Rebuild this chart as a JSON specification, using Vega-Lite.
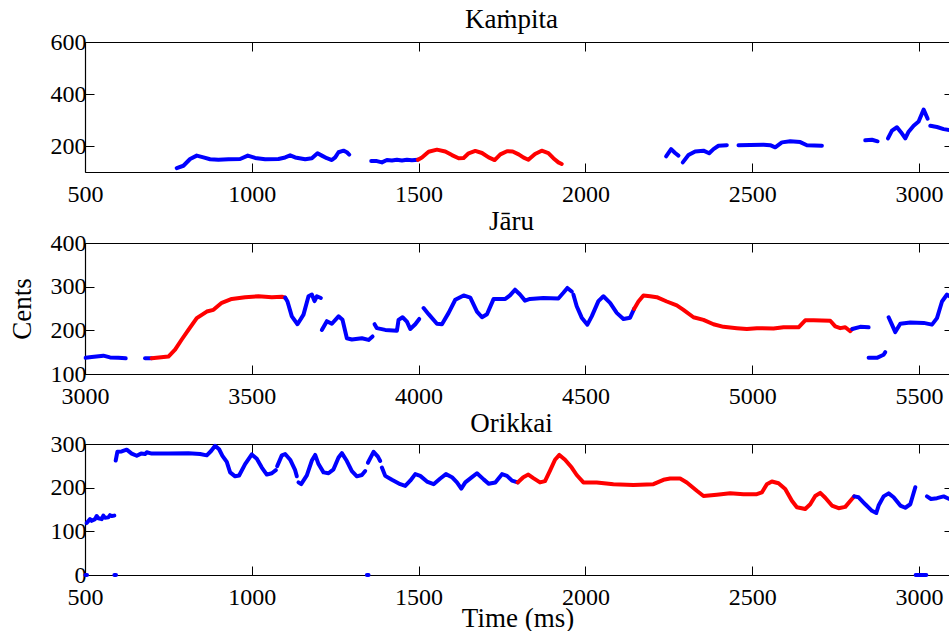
{
  "$schema": "https://vega.github.io/schema/vega-lite/v6.json",
  "padding": {"left": 8, "top": 6, "right": 0, "bottom": 0},
  "spacing": 2,
  "config": {
    "view": {"stroke": null},
    "line": {"strokeWidth": 4, "strokeCap": "round", "strokeJoin": "round"}
  },
  "datasets": {
    "k": [
      {"t": 775, "v": 115, "s": 1, "c": "b"}, {"t": 795, "v": 124, "s": 1, "c": "b"}, {"t": 815, "v": 150, "s": 1, "c": "b"},
      {"t": 835, "v": 163, "s": 1, "c": "b"}, {"t": 855, "v": 156, "s": 1, "c": "b"}, {"t": 875, "v": 149, "s": 1, "c": "b"},
      {"t": 900, "v": 147, "s": 1, "c": "b"}, {"t": 930, "v": 149, "s": 1, "c": "b"}, {"t": 965, "v": 150, "s": 1, "c": "b"},
      {"t": 988, "v": 163, "s": 1, "c": "b"}, {"t": 1010, "v": 154, "s": 1, "c": "b"}, {"t": 1040, "v": 149, "s": 1, "c": "b"},
      {"t": 1080, "v": 150, "s": 1, "c": "b"}, {"t": 1100, "v": 156, "s": 1, "c": "b"}, {"t": 1115, "v": 164, "s": 1, "c": "b"},
      {"t": 1130, "v": 156, "s": 1, "c": "b"}, {"t": 1160, "v": 149, "s": 1, "c": "b"}, {"t": 1180, "v": 153, "s": 1, "c": "b"},
      {"t": 1197, "v": 172, "s": 1, "c": "b"}, {"t": 1210, "v": 163, "s": 1, "c": "b"}, {"t": 1225, "v": 153, "s": 1, "c": "b"},
      {"t": 1240, "v": 146, "s": 1, "c": "b"}, {"t": 1250, "v": 156, "s": 1, "c": "b"}, {"t": 1260, "v": 176, "s": 1, "c": "b"},
      {"t": 1275, "v": 182, "s": 1, "c": "b"}, {"t": 1285, "v": 176, "s": 1, "c": "b"}, {"t": 1292, "v": 167, "s": 1, "c": "b"},
      {"t": 1358, "v": 142, "s": 2, "c": "b"}, {"t": 1375, "v": 142, "s": 2, "c": "b"}, {"t": 1390, "v": 137, "s": 2, "c": "b"},
      {"t": 1405, "v": 146, "s": 2, "c": "b"}, {"t": 1420, "v": 144, "s": 2, "c": "b"}, {"t": 1435, "v": 147, "s": 2, "c": "b"},
      {"t": 1450, "v": 144, "s": 2, "c": "b"}, {"t": 1465, "v": 147, "s": 2, "c": "b"}, {"t": 1480, "v": 145, "s": 2, "c": "b"},
      {"t": 1498, "v": 147, "s": 2, "c": "b"},
      {"t": 1498, "v": 147, "s": 3, "c": "r"}, {"t": 1510, "v": 156, "s": 3, "c": "r"}, {"t": 1530, "v": 178, "s": 3, "c": "r"},
      {"t": 1555, "v": 186, "s": 3, "c": "r"}, {"t": 1580, "v": 179, "s": 3, "c": "r"}, {"t": 1600, "v": 165, "s": 3, "c": "r"},
      {"t": 1620, "v": 153, "s": 3, "c": "r"}, {"t": 1635, "v": 154, "s": 3, "c": "r"}, {"t": 1650, "v": 172, "s": 3, "c": "r"},
      {"t": 1670, "v": 181, "s": 3, "c": "r"}, {"t": 1690, "v": 173, "s": 3, "c": "r"}, {"t": 1710, "v": 156, "s": 3, "c": "r"},
      {"t": 1728, "v": 146, "s": 3, "c": "r"}, {"t": 1745, "v": 168, "s": 3, "c": "r"}, {"t": 1765, "v": 180, "s": 3, "c": "r"},
      {"t": 1782, "v": 179, "s": 3, "c": "r"}, {"t": 1800, "v": 168, "s": 3, "c": "r"}, {"t": 1815, "v": 155, "s": 3, "c": "r"},
      {"t": 1829, "v": 147, "s": 3, "c": "r"}, {"t": 1849, "v": 169, "s": 3, "c": "r"}, {"t": 1869, "v": 182, "s": 3, "c": "r"},
      {"t": 1889, "v": 173, "s": 3, "c": "r"}, {"t": 1904, "v": 153, "s": 3, "c": "r"}, {"t": 1919, "v": 137, "s": 3, "c": "r"},
      {"t": 1929, "v": 131, "s": 3, "c": "r"},
      {"t": 2242, "v": 160, "s": 4, "c": "b"}, {"t": 2257, "v": 188, "s": 4, "c": "b"}, {"t": 2269, "v": 173, "s": 4, "c": "b"},
      {"t": 2279, "v": 163, "s": 4, "c": "b"},
      {"t": 2292, "v": 137, "s": 5, "c": "b"}, {"t": 2309, "v": 165, "s": 5, "c": "b"}, {"t": 2329, "v": 179, "s": 5, "c": "b"},
      {"t": 2354, "v": 182, "s": 5, "c": "b"}, {"t": 2371, "v": 172, "s": 5, "c": "b"}, {"t": 2384, "v": 188, "s": 5, "c": "b"},
      {"t": 2399, "v": 201, "s": 5, "c": "b"}, {"t": 2424, "v": 203, "s": 5, "c": "b"},
      {"t": 2459, "v": 203, "s": 6, "c": "b"}, {"t": 2494, "v": 204, "s": 6, "c": "b"}, {"t": 2534, "v": 205, "s": 6, "c": "b"},
      {"t": 2554, "v": 203, "s": 6, "c": "b"}, {"t": 2569, "v": 195, "s": 6, "c": "b"}, {"t": 2589, "v": 214, "s": 6, "c": "b"},
      {"t": 2614, "v": 218, "s": 6, "c": "b"}, {"t": 2644, "v": 215, "s": 6, "c": "b"}, {"t": 2664, "v": 203, "s": 6, "c": "b"},
      {"t": 2709, "v": 201, "s": 6, "c": "b"},
      {"t": 2839, "v": 222, "s": 7, "c": "b"}, {"t": 2859, "v": 224, "s": 7, "c": "b"}, {"t": 2876, "v": 218, "s": 7, "c": "b"},
      {"t": 2907, "v": 229, "s": 8, "c": "b"}, {"t": 2919, "v": 259, "s": 8, "c": "b"}, {"t": 2934, "v": 272, "s": 8, "c": "b"},
      {"t": 2946, "v": 253, "s": 8, "c": "b"}, {"t": 2959, "v": 229, "s": 8, "c": "b"}, {"t": 2969, "v": 255, "s": 8, "c": "b"},
      {"t": 2984, "v": 278, "s": 8, "c": "b"}, {"t": 2999, "v": 294, "s": 8, "c": "b"}, {"t": 3014, "v": 340, "s": 8, "c": "b"},
      {"t": 3026, "v": 305, "s": 8, "c": "b"},
      {"t": 3034, "v": 278, "s": 9, "c": "b"}, {"t": 3054, "v": 273, "s": 9, "c": "b"}, {"t": 3074, "v": 265, "s": 9, "c": "b"},
      {"t": 3091, "v": 261, "s": 9, "c": "b"}
    ],
    "j": [
      {"t": 3002, "v": 137, "s": 1, "c": "b"}, {"t": 3020, "v": 139, "s": 1, "c": "b"}, {"t": 3055, "v": 142, "s": 1, "c": "b"},
      {"t": 3075, "v": 138, "s": 1, "c": "b"}, {"t": 3100, "v": 137, "s": 1, "c": "b"}, {"t": 3122, "v": 136, "s": 1, "c": "b"},
      {"t": 3180, "v": 136, "s": 2, "c": "b"}, {"t": 3200, "v": 136, "s": 2, "c": "b"},
      {"t": 3200, "v": 136, "s": 3, "c": "r"}, {"t": 3250, "v": 140, "s": 3, "c": "r"}, {"t": 3270, "v": 156, "s": 3, "c": "r"},
      {"t": 3290, "v": 179, "s": 3, "c": "r"}, {"t": 3310, "v": 201, "s": 3, "c": "r"}, {"t": 3335, "v": 228, "s": 3, "c": "r"},
      {"t": 3365, "v": 243, "s": 3, "c": "r"}, {"t": 3385, "v": 247, "s": 3, "c": "r"}, {"t": 3410, "v": 263, "s": 3, "c": "r"},
      {"t": 3440, "v": 272, "s": 3, "c": "r"}, {"t": 3480, "v": 276, "s": 3, "c": "r"}, {"t": 3520, "v": 278, "s": 3, "c": "r"},
      {"t": 3560, "v": 276, "s": 3, "c": "r"}, {"t": 3590, "v": 277, "s": 3, "c": "r"}, {"t": 3600, "v": 275, "s": 3, "c": "r"},
      {"t": 3600, "v": 275, "s": 4, "c": "b"}, {"t": 3607, "v": 266, "s": 4, "c": "b"}, {"t": 3620, "v": 232, "s": 4, "c": "b"},
      {"t": 3637, "v": 214, "s": 4, "c": "b"}, {"t": 3655, "v": 236, "s": 4, "c": "b"}, {"t": 3670, "v": 278, "s": 4, "c": "b"},
      {"t": 3680, "v": 282, "s": 4, "c": "b"}, {"t": 3688, "v": 267, "s": 4, "c": "b"}, {"t": 3695, "v": 278, "s": 4, "c": "b"},
      {"t": 3707, "v": 274, "s": 4, "c": "b"},
      {"t": 3710, "v": 201, "s": 5, "c": "b"}, {"t": 3725, "v": 221, "s": 5, "c": "b"}, {"t": 3740, "v": 215, "s": 5, "c": "b"},
      {"t": 3760, "v": 232, "s": 5, "c": "b"}, {"t": 3772, "v": 224, "s": 5, "c": "b"}, {"t": 3785, "v": 182, "s": 5, "c": "b"},
      {"t": 3800, "v": 179, "s": 5, "c": "b"}, {"t": 3830, "v": 182, "s": 5, "c": "b"}, {"t": 3850, "v": 178, "s": 5, "c": "b"},
      {"t": 3862, "v": 186, "s": 5, "c": "b"},
      {"t": 3868, "v": 214, "s": 6, "c": "b"}, {"t": 3875, "v": 205, "s": 6, "c": "b"}, {"t": 3900, "v": 201, "s": 6, "c": "b"},
      {"t": 3935, "v": 199, "s": 6, "c": "b"}, {"t": 3940, "v": 224, "s": 6, "c": "b"}, {"t": 3952, "v": 230, "s": 6, "c": "b"},
      {"t": 3965, "v": 220, "s": 6, "c": "b"}, {"t": 3975, "v": 203, "s": 6, "c": "b"}, {"t": 3990, "v": 214, "s": 6, "c": "b"},
      {"t": 4002, "v": 226, "s": 6, "c": "b"},
      {"t": 4015, "v": 251, "s": 7, "c": "b"}, {"t": 4030, "v": 237, "s": 7, "c": "b"}, {"t": 4055, "v": 215, "s": 7, "c": "b"},
      {"t": 4070, "v": 214, "s": 7, "c": "b"}, {"t": 4090, "v": 240, "s": 7, "c": "b"}, {"t": 4110, "v": 270, "s": 7, "c": "b"},
      {"t": 4135, "v": 280, "s": 7, "c": "b"}, {"t": 4155, "v": 275, "s": 7, "c": "b"}, {"t": 4175, "v": 243, "s": 7, "c": "b"},
      {"t": 4190, "v": 230, "s": 7, "c": "b"}, {"t": 4205, "v": 237, "s": 7, "c": "b"}, {"t": 4225, "v": 272, "s": 7, "c": "b"},
      {"t": 4260, "v": 272, "s": 7, "c": "b"}, {"t": 4274, "v": 280, "s": 7, "c": "b"}, {"t": 4289, "v": 293, "s": 7, "c": "b"},
      {"t": 4304, "v": 282, "s": 7, "c": "b"}, {"t": 4319, "v": 268, "s": 7, "c": "b"}, {"t": 4334, "v": 272, "s": 7, "c": "b"},
      {"t": 4374, "v": 274, "s": 7, "c": "b"}, {"t": 4419, "v": 273, "s": 7, "c": "b"}, {"t": 4434, "v": 286, "s": 7, "c": "b"},
      {"t": 4446, "v": 297, "s": 7, "c": "b"}, {"t": 4459, "v": 289, "s": 7, "c": "b"},
      {"t": 4464, "v": 282, "s": 8, "c": "b"}, {"t": 4474, "v": 255, "s": 8, "c": "b"}, {"t": 4489, "v": 229, "s": 8, "c": "b"},
      {"t": 4506, "v": 213, "s": 8, "c": "b"}, {"t": 4519, "v": 232, "s": 8, "c": "b"}, {"t": 4539, "v": 267, "s": 8, "c": "b"},
      {"t": 4554, "v": 278, "s": 8, "c": "b"}, {"t": 4574, "v": 263, "s": 8, "c": "b"}, {"t": 4594, "v": 240, "s": 8, "c": "b"},
      {"t": 4614, "v": 226, "s": 8, "c": "b"}, {"t": 4634, "v": 229, "s": 8, "c": "b"}, {"t": 4646, "v": 249, "s": 8, "c": "b"},
      {"t": 4646, "v": 249, "s": 9, "c": "r"}, {"t": 4659, "v": 266, "s": 9, "c": "r"}, {"t": 4674, "v": 280, "s": 9, "c": "r"},
      {"t": 4694, "v": 278, "s": 9, "c": "r"}, {"t": 4714, "v": 276, "s": 9, "c": "r"}, {"t": 4744, "v": 266, "s": 9, "c": "r"},
      {"t": 4774, "v": 257, "s": 9, "c": "r"}, {"t": 4794, "v": 247, "s": 9, "c": "r"}, {"t": 4824, "v": 230, "s": 9, "c": "r"},
      {"t": 4854, "v": 224, "s": 9, "c": "r"}, {"t": 4884, "v": 214, "s": 9, "c": "r"}, {"t": 4914, "v": 208, "s": 9, "c": "r"},
      {"t": 4954, "v": 205, "s": 9, "c": "r"}, {"t": 4984, "v": 203, "s": 9, "c": "r"}, {"t": 5014, "v": 205, "s": 9, "c": "r"},
      {"t": 5064, "v": 204, "s": 9, "c": "r"}, {"t": 5094, "v": 207, "s": 9, "c": "r"}, {"t": 5139, "v": 207, "s": 9, "c": "r"},
      {"t": 5159, "v": 223, "s": 9, "c": "r"}, {"t": 5184, "v": 223, "s": 9, "c": "r"}, {"t": 5234, "v": 222, "s": 9, "c": "r"},
      {"t": 5249, "v": 209, "s": 9, "c": "r"}, {"t": 5264, "v": 205, "s": 9, "c": "r"}, {"t": 5279, "v": 207, "s": 9, "c": "r"},
      {"t": 5294, "v": 198, "s": 9, "c": "r"}, {"t": 5300, "v": 203, "s": 9, "c": "r"},
      {"t": 5300, "v": 203, "s": 10, "c": "b"}, {"t": 5324, "v": 208, "s": 10, "c": "b"}, {"t": 5349, "v": 207, "s": 10, "c": "b"},
      {"t": 5349, "v": 137, "s": 11, "c": "b"}, {"t": 5374, "v": 137, "s": 11, "c": "b"}, {"t": 5394, "v": 144, "s": 11, "c": "b"},
      {"t": 5399, "v": 150, "s": 11, "c": "b"},
      {"t": 5409, "v": 230, "s": 12, "c": "b"}, {"t": 5419, "v": 213, "s": 12, "c": "b"}, {"t": 5429, "v": 196, "s": 12, "c": "b"},
      {"t": 5444, "v": 215, "s": 12, "c": "b"}, {"t": 5474, "v": 218, "s": 12, "c": "b"}, {"t": 5514, "v": 217, "s": 12, "c": "b"},
      {"t": 5539, "v": 213, "s": 12, "c": "b"}, {"t": 5554, "v": 228, "s": 12, "c": "b"}, {"t": 5569, "v": 266, "s": 12, "c": "b"},
      {"t": 5584, "v": 282, "s": 12, "c": "b"}, {"t": 5591, "v": 278, "s": 12, "c": "b"}
    ],
    "o": [
      {"t": 501, "v": 0, "s": 21, "c": "b"}, {"t": 506, "v": 0, "s": 21, "c": "b"},
      {"t": 588, "v": 0, "s": 22, "c": "b"}, {"t": 593, "v": 0, "s": 22, "c": "b"},
      {"t": 1345, "v": 0, "s": 23, "c": "b"}, {"t": 1350, "v": 0, "s": 23, "c": "b"},
      {"t": 2990, "v": 0, "s": 24, "c": "b"}, {"t": 3022, "v": 0, "s": 24, "c": "b"},
      {"t": 505, "v": 119, "s": 1, "c": "b"}, {"t": 515, "v": 128, "s": 1, "c": "b"}, {"t": 520, "v": 124, "s": 1, "c": "b"},
      {"t": 530, "v": 128, "s": 1, "c": "b"}, {"t": 535, "v": 135, "s": 1, "c": "b"}, {"t": 540, "v": 130, "s": 1, "c": "b"},
      {"t": 550, "v": 128, "s": 1, "c": "b"}, {"t": 555, "v": 136, "s": 1, "c": "b"}, {"t": 560, "v": 131, "s": 1, "c": "b"},
      {"t": 570, "v": 132, "s": 1, "c": "b"}, {"t": 575, "v": 137, "s": 1, "c": "b"}, {"t": 580, "v": 135, "s": 1, "c": "b"},
      {"t": 588, "v": 136, "s": 1, "c": "b"},
      {"t": 592, "v": 262, "s": 2, "c": "b"}, {"t": 597, "v": 282, "s": 2, "c": "b"}, {"t": 610, "v": 283, "s": 2, "c": "b"},
      {"t": 625, "v": 287, "s": 2, "c": "b"}, {"t": 640, "v": 278, "s": 2, "c": "b"}, {"t": 655, "v": 273, "s": 2, "c": "b"},
      {"t": 668, "v": 278, "s": 2, "c": "b"}, {"t": 680, "v": 277, "s": 2, "c": "b"}, {"t": 685, "v": 281, "s": 2, "c": "b"},
      {"t": 700, "v": 278, "s": 2, "c": "b"}, {"t": 750, "v": 278, "s": 2, "c": "b"}, {"t": 810, "v": 279, "s": 2, "c": "b"},
      {"t": 845, "v": 277, "s": 2, "c": "b"}, {"t": 865, "v": 274, "s": 2, "c": "b"}, {"t": 878, "v": 284, "s": 2, "c": "b"},
      {"t": 890, "v": 296, "s": 2, "c": "b"}, {"t": 902, "v": 288, "s": 2, "c": "b"}, {"t": 912, "v": 273, "s": 2, "c": "b"},
      {"t": 925, "v": 259, "s": 2, "c": "b"}, {"t": 935, "v": 235, "s": 2, "c": "b"}, {"t": 950, "v": 226, "s": 2, "c": "b"},
      {"t": 962, "v": 228, "s": 2, "c": "b"}, {"t": 980, "v": 254, "s": 2, "c": "b"}, {"t": 1000, "v": 276, "s": 2, "c": "b"},
      {"t": 1015, "v": 266, "s": 2, "c": "b"}, {"t": 1030, "v": 246, "s": 2, "c": "b"}, {"t": 1045, "v": 230, "s": 2, "c": "b"},
      {"t": 1060, "v": 233, "s": 2, "c": "b"}, {"t": 1072, "v": 240, "s": 2, "c": "b"},
      {"t": 1076, "v": 249, "s": 3, "c": "b"}, {"t": 1090, "v": 274, "s": 3, "c": "b"}, {"t": 1100, "v": 277, "s": 3, "c": "b"},
      {"t": 1115, "v": 264, "s": 3, "c": "b"}, {"t": 1130, "v": 240, "s": 3, "c": "b"}, {"t": 1135, "v": 226, "s": 3, "c": "b"},
      {"t": 1140, "v": 212, "s": 4, "c": "b"}, {"t": 1148, "v": 208, "s": 4, "c": "b"}, {"t": 1165, "v": 228, "s": 4, "c": "b"},
      {"t": 1180, "v": 262, "s": 4, "c": "b"}, {"t": 1190, "v": 275, "s": 4, "c": "b"}, {"t": 1200, "v": 254, "s": 4, "c": "b"},
      {"t": 1215, "v": 235, "s": 4, "c": "b"}, {"t": 1230, "v": 233, "s": 4, "c": "b"}, {"t": 1245, "v": 242, "s": 4, "c": "b"},
      {"t": 1260, "v": 269, "s": 4, "c": "b"}, {"t": 1270, "v": 279, "s": 4, "c": "b"}, {"t": 1285, "v": 261, "s": 4, "c": "b"},
      {"t": 1300, "v": 238, "s": 4, "c": "b"}, {"t": 1315, "v": 226, "s": 4, "c": "b"}, {"t": 1330, "v": 229, "s": 4, "c": "b"},
      {"t": 1340, "v": 238, "s": 4, "c": "b"},
      {"t": 1348, "v": 257, "s": 5, "c": "b"}, {"t": 1365, "v": 282, "s": 5, "c": "b"}, {"t": 1378, "v": 271, "s": 5, "c": "b"},
      {"t": 1385, "v": 261, "s": 5, "c": "b"},
      {"t": 1390, "v": 246, "s": 6, "c": "b"}, {"t": 1400, "v": 227, "s": 6, "c": "b"}, {"t": 1420, "v": 218, "s": 6, "c": "b"},
      {"t": 1445, "v": 208, "s": 6, "c": "b"}, {"t": 1460, "v": 204, "s": 6, "c": "b"}, {"t": 1475, "v": 216, "s": 6, "c": "b"},
      {"t": 1490, "v": 231, "s": 6, "c": "b"}, {"t": 1505, "v": 227, "s": 6, "c": "b"}, {"t": 1525, "v": 214, "s": 6, "c": "b"},
      {"t": 1545, "v": 208, "s": 6, "c": "b"}, {"t": 1565, "v": 221, "s": 6, "c": "b"}, {"t": 1582, "v": 231, "s": 6, "c": "b"},
      {"t": 1600, "v": 224, "s": 6, "c": "b"}, {"t": 1615, "v": 212, "s": 6, "c": "b"}, {"t": 1628, "v": 198, "s": 6, "c": "b"},
      {"t": 1640, "v": 212, "s": 6, "c": "b"}, {"t": 1660, "v": 224, "s": 6, "c": "b"}, {"t": 1675, "v": 233, "s": 6, "c": "b"},
      {"t": 1695, "v": 219, "s": 6, "c": "b"}, {"t": 1710, "v": 209, "s": 6, "c": "b"}, {"t": 1730, "v": 212, "s": 6, "c": "b"},
      {"t": 1750, "v": 231, "s": 6, "c": "b"}, {"t": 1765, "v": 227, "s": 6, "c": "b"}, {"t": 1780, "v": 216, "s": 6, "c": "b"},
      {"t": 1797, "v": 212, "s": 6, "c": "b"},
      {"t": 1797, "v": 212, "s": 7, "c": "r"}, {"t": 1814, "v": 224, "s": 7, "c": "r"}, {"t": 1829, "v": 230, "s": 7, "c": "r"},
      {"t": 1844, "v": 222, "s": 7, "c": "r"}, {"t": 1864, "v": 212, "s": 7, "c": "r"}, {"t": 1879, "v": 215, "s": 7, "c": "r"},
      {"t": 1894, "v": 239, "s": 7, "c": "r"}, {"t": 1909, "v": 264, "s": 7, "c": "r"}, {"t": 1922, "v": 275, "s": 7, "c": "r"},
      {"t": 1939, "v": 264, "s": 7, "c": "r"}, {"t": 1959, "v": 246, "s": 7, "c": "r"}, {"t": 1974, "v": 229, "s": 7, "c": "r"},
      {"t": 1994, "v": 212, "s": 7, "c": "r"}, {"t": 2034, "v": 212, "s": 7, "c": "r"}, {"t": 2084, "v": 208, "s": 7, "c": "r"},
      {"t": 2144, "v": 206, "s": 7, "c": "r"}, {"t": 2204, "v": 208, "s": 7, "c": "r"}, {"t": 2234, "v": 218, "s": 7, "c": "r"},
      {"t": 2254, "v": 221, "s": 7, "c": "r"}, {"t": 2284, "v": 221, "s": 7, "c": "r"}, {"t": 2304, "v": 212, "s": 7, "c": "r"},
      {"t": 2334, "v": 193, "s": 7, "c": "r"}, {"t": 2354, "v": 181, "s": 7, "c": "r"}, {"t": 2394, "v": 184, "s": 7, "c": "r"},
      {"t": 2434, "v": 187, "s": 7, "c": "r"}, {"t": 2474, "v": 185, "s": 7, "c": "r"}, {"t": 2514, "v": 185, "s": 7, "c": "r"},
      {"t": 2529, "v": 189, "s": 7, "c": "r"}, {"t": 2544, "v": 208, "s": 7, "c": "r"}, {"t": 2559, "v": 214, "s": 7, "c": "r"},
      {"t": 2579, "v": 210, "s": 7, "c": "r"}, {"t": 2599, "v": 197, "s": 7, "c": "r"}, {"t": 2619, "v": 170, "s": 7, "c": "r"},
      {"t": 2634, "v": 155, "s": 7, "c": "r"}, {"t": 2659, "v": 151, "s": 7, "c": "r"}, {"t": 2674, "v": 162, "s": 7, "c": "r"},
      {"t": 2689, "v": 181, "s": 7, "c": "r"}, {"t": 2704, "v": 188, "s": 7, "c": "r"}, {"t": 2719, "v": 177, "s": 7, "c": "r"},
      {"t": 2739, "v": 159, "s": 7, "c": "r"}, {"t": 2759, "v": 153, "s": 7, "c": "r"}, {"t": 2779, "v": 156, "s": 7, "c": "r"},
      {"t": 2799, "v": 174, "s": 7, "c": "r"}, {"t": 2806, "v": 180, "s": 7, "c": "r"},
      {"t": 2806, "v": 180, "s": 8, "c": "b"}, {"t": 2819, "v": 178, "s": 8, "c": "b"}, {"t": 2839, "v": 162, "s": 8, "c": "b"},
      {"t": 2859, "v": 147, "s": 8, "c": "b"}, {"t": 2872, "v": 142, "s": 8, "c": "b"}, {"t": 2879, "v": 159, "s": 8, "c": "b"},
      {"t": 2894, "v": 180, "s": 8, "c": "b"}, {"t": 2909, "v": 187, "s": 8, "c": "b"}, {"t": 2924, "v": 178, "s": 8, "c": "b"},
      {"t": 2944, "v": 159, "s": 8, "c": "b"}, {"t": 2959, "v": 154, "s": 8, "c": "b"}, {"t": 2974, "v": 162, "s": 8, "c": "b"},
      {"t": 2989, "v": 201, "s": 8, "c": "b"},
      {"t": 3024, "v": 180, "s": 9, "c": "b"}, {"t": 3036, "v": 174, "s": 9, "c": "b"}, {"t": 3054, "v": 176, "s": 9, "c": "b"},
      {"t": 3074, "v": 180, "s": 9, "c": "b"}, {"t": 3091, "v": 174, "s": 9, "c": "b"}
    ]
  },
  "vconcat": [
    {
      "data": {"name": "k"},
      "title": {"text": "Kaṁpita", "dx": -6, "font": "'Liberation Serif', serif", "fontSize": 27, "fontWeight": "normal", "color": "black", "offset": -4},
      "width": 865, "height": 130,
      "resolve": {"axis": {"x": "independent", "y": "independent"}},
      "layer": [
        {
          "mark": {"type": "line"},
          "encoding": {
            "x": {"field": "t", "type": "quantitative", "scale": {"domain": [500, 3093], "nice": false, "zero": false},
              "axis": {"values": [500, 1000, 1500, 2000, 2500, 3000], "format": "d", "title": null, "tickSize": -9, "labelPadding": 19,
                "labelFont": "'Liberation Serif', serif", "labelFontSize": 24, "labelColor": "black", "labelFlush": false, "labelOverlap": false,
                "domainColor": "black", "domainWidth": 1.2, "tickColor": "black", "tickWidth": 1, "grid": false}},
            "y": {"field": "v", "type": "quantitative", "scale": {"domain": [100, 600], "nice": false, "zero": false},
              "axis": {"values": [200, 400, 600], "format": "d", "title": null, "tickSize": -9, "labelPadding": 8,
                "labelFont": "'Liberation Serif', serif", "labelFontSize": 24, "labelColor": "black", "labelFlush": false, "labelOverlap": false,
                "domainColor": "black", "domainWidth": 1.2, "tickColor": "black", "tickWidth": 1, "grid": false}},
            "color": {"field": "c", "type": "nominal", "scale": {"domain": ["b", "r"], "range": ["#0000ff", "#ff0000"]}, "legend": null},
            "detail": {"field": "s", "type": "nominal"}
          }
        },
        {
          "mark": {"type": "point", "opacity": 0},
          "encoding": {
            "x": {"field": "t", "type": "quantitative", "axis": {"orient": "top", "values": [500, 1000, 1500, 2000, 2500, 3000], "labels": false, "title": null, "tickSize": -9, "domainColor": "black", "domainWidth": 1.2, "tickColor": "black", "grid": false}},
            "y": {"field": "v", "type": "quantitative", "axis": {"orient": "right", "values": [200, 400, 600], "labels": false, "domain": false, "title": null, "tickSize": -6, "tickColor": "black", "grid": false}}
          }
        }
      ]
    },
    {
      "data": {"name": "j"},
      "title": {"text": "Jāru", "dx": -6, "font": "'Liberation Serif', serif", "fontSize": 27, "fontWeight": "normal", "color": "black", "offset": -5},
      "width": 865, "height": 131,
      "resolve": {"axis": {"x": "independent", "y": "independent"}},
      "layer": [
        {
          "mark": {"type": "line"},
          "encoding": {
            "x": {"field": "t", "type": "quantitative", "scale": {"domain": [3000, 5593], "nice": false, "zero": false},
              "axis": {"values": [3000, 3500, 4000, 4500, 5000, 5500], "format": "d", "title": null, "tickSize": -9, "labelPadding": 19,
                "labelFont": "'Liberation Serif', serif", "labelFontSize": 24, "labelColor": "black", "labelFlush": false, "labelOverlap": false,
                "domainColor": "black", "domainWidth": 1.2, "tickColor": "black", "tickWidth": 1, "grid": false}},
            "y": {"field": "v", "type": "quantitative", "scale": {"domain": [100, 400], "nice": false, "zero": false},
              "axis": {"values": [100, 200, 300, 400], "format": "d", "title": "Cents", "titlePadding": 14, "tickSize": -9, "labelPadding": 8,
                "labelFont": "'Liberation Serif', serif", "labelFontSize": 24, "labelColor": "black", "labelFlush": false, "labelOverlap": false,
                "titleFont": "'Liberation Serif', serif", "titleFontSize": 27, "titleFontWeight": "normal", "titleColor": "black",
                "domainColor": "black", "domainWidth": 1.2, "tickColor": "black", "tickWidth": 1, "grid": false}},
            "color": {"field": "c", "type": "nominal", "scale": {"domain": ["b", "r"], "range": ["#0000ff", "#ff0000"]}, "legend": null},
            "detail": {"field": "s", "type": "nominal"}
          }
        },
        {
          "mark": {"type": "point", "opacity": 0},
          "encoding": {
            "x": {"field": "t", "type": "quantitative", "axis": {"orient": "top", "values": [3000, 3500, 4000, 4500, 5000, 5500], "labels": false, "title": null, "tickSize": -9, "domainColor": "black", "domainWidth": 1.2, "tickColor": "black", "grid": false}},
            "y": {"field": "v", "type": "quantitative", "axis": {"orient": "right", "values": [100, 200, 300, 400], "labels": false, "domain": false, "title": null, "tickSize": -6, "tickColor": "black", "grid": false}}
          }
        }
      ]
    },
    {
      "data": {"name": "o"},
      "title": {"text": "Orikkai", "dx": -6, "font": "'Liberation Serif', serif", "fontSize": 27, "fontWeight": "normal", "color": "black", "offset": -6},
      "width": 865, "height": 131,
      "resolve": {"axis": {"x": "independent", "y": "independent"}},
      "layer": [
        {
          "mark": {"type": "line"},
          "encoding": {
            "x": {"field": "t", "type": "quantitative", "scale": {"domain": [500, 3093], "nice": false, "zero": false},
              "axis": {"values": [500, 1000, 1500, 2000, 2500, 3000], "format": "d", "title": "Time (ms)", "titlePadding": -4, "tickSize": -9, "labelPadding": 19,
                "labelFont": "'Liberation Serif', serif", "labelFontSize": 24, "labelColor": "black", "labelFlush": false, "labelOverlap": false,
                "titleFont": "'Liberation Serif', serif", "titleFontSize": 27, "titleFontWeight": "normal", "titleColor": "black",
                "domainColor": "black", "domainWidth": 1.2, "tickColor": "black", "tickWidth": 1, "grid": false}},
            "y": {"field": "v", "type": "quantitative", "scale": {"domain": [0, 300], "nice": false, "zero": false},
              "axis": {"values": [0, 100, 200, 300], "format": "d", "title": null, "tickSize": -9, "labelPadding": 8,
                "labelFont": "'Liberation Serif', serif", "labelFontSize": 24, "labelColor": "black", "labelFlush": false, "labelOverlap": false,
                "domainColor": "black", "domainWidth": 1.2, "tickColor": "black", "tickWidth": 1, "grid": false}},
            "color": {"field": "c", "type": "nominal", "scale": {"domain": ["b", "r"], "range": ["#0000ff", "#ff0000"]}, "legend": null},
            "detail": {"field": "s", "type": "nominal"}
          }
        },
        {
          "mark": {"type": "point", "opacity": 0},
          "encoding": {
            "x": {"field": "t", "type": "quantitative", "axis": {"orient": "top", "values": [500, 1000, 1500, 2000, 2500, 3000], "labels": false, "title": null, "tickSize": -9, "domainColor": "black", "domainWidth": 1.2, "tickColor": "black", "grid": false}},
            "y": {"field": "v", "type": "quantitative", "axis": {"orient": "right", "values": [0, 100, 200, 300], "labels": false, "domain": false, "title": null, "tickSize": -6, "tickColor": "black", "grid": false}}
          }
        }
      ]
    }
  ]
}
